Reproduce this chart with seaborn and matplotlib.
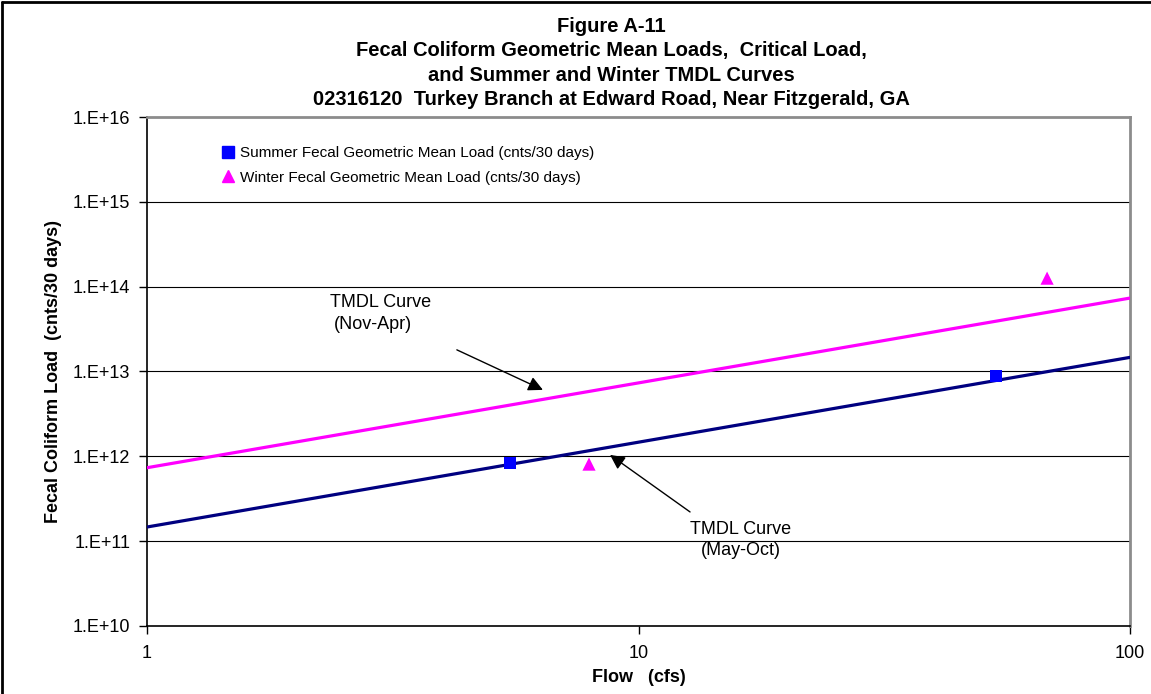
import numpy as np
import pandas as pd
import matplotlib
matplotlib.use("Agg")
import matplotlib.pyplot as plt
import seaborn as sns
from matplotlib.lines import Line2D

# Data
summer_flow = [5.48, 53.4]
summer_load = [8.4e11, 8.9e12]
winter_flow = [7.93, 67.8]
winter_load = [8.1e11, 1.26e14]
curve_flow = [1.0, 100.0]
summer_tmdl = [1.468e11, 1.468e13]
winter_tmdl = [7.34e11, 7.34e13]
y_ticks = [1e10, 1e11, 1e12, 1e13, 1e14, 1e15, 1e16]
y_tick_labels = ["1.E+10", "1.E+11", "1.E+12", "1.E+13", "1.E+14", "1.E+15", "1.E+16"]
x_ticks = [1, 10, 100]
x_tick_labels = ["1", "10", "100"]

sns.set_theme(style="white")
plt.rcParams['font.family'] = ['Liberation Sans', 'DejaVu Sans']
plt.rcParams['text.color'] = 'black'
plt.rcParams['axes.labelcolor'] = 'black'
plt.rcParams['xtick.color'] = 'black'
plt.rcParams['ytick.color'] = 'black'

fig = plt.figure(figsize=(11.51, 6.94), dpi=100)
ax = fig.add_axes([0.1277, 0.098, 0.8541, 0.7334])

ax.set_xscale("log")
ax.set_yscale("log")
ax.set_xlim(1, 100)
ax.set_ylim(1e10, 1e16)

for yt in y_ticks[1:-1]:
    ax.axhline(yt, color="black", lw=0.8, zorder=1)

df_c = pd.DataFrame({"flow": curve_flow + curve_flow,
                     "load": winter_tmdl + summer_tmdl,
                     "curve": ["winter"] * 2 + ["summer"] * 2})
sns.lineplot(data=df_c, x="flow", y="load", hue="curve",
             palette={"winter": "#FF00FF", "summer": "#000080"},
             lw=2.3, ax=ax, legend=False, zorder=3)

df_s = pd.DataFrame({"flow": summer_flow, "load": summer_load})
df_w = pd.DataFrame({"flow": winter_flow, "load": winter_load})
sns.scatterplot(data=df_s, x="flow", y="load", marker="s", color="#0000FF",
                s=75, edgecolor="none", ax=ax, zorder=4)
sns.scatterplot(data=df_w, x="flow", y="load", marker="^", color="#FF00FF",
                s=90, edgecolor="none", ax=ax, zorder=4)

ax.set_xticks(x_ticks)
ax.set_xticklabels(x_tick_labels, fontsize=13)
ax.set_yticks(y_ticks)
ax.set_yticklabels(y_tick_labels, fontsize=13)
ax.minorticks_off()
ax.tick_params(axis="both", direction="out", length=6, width=1, color="black",
               labelcolor="black", bottom=True, left=True)
ax.tick_params(axis="y", pad=6)
ax.tick_params(axis="x", pad=8)

for side in ["left", "bottom"]:
    ax.spines[side].set_color("black")
    ax.spines[side].set_linewidth(1.2)
for side in ["top", "right"]:
    ax.spines[side].set_color("#8c8c8c")
    ax.spines[side].set_linewidth(2)

ax.set_xlabel("Flow   (cfs)", fontsize=13, fontweight="bold", labelpad=5,
              color="black")
ax.set_ylabel("Fecal Coliform Load  (cnts/30 days)", fontsize=13,
              fontweight="bold", labelpad=8, color="black")

handles = [
    Line2D([], [], marker="s", color="#0000FF", ls="none", markersize=8.5),
    Line2D([], [], marker="^", color="#FF00FF", ls="none", markersize=9),
]
leg = ax.legend(handles, ["Summer Fecal Geometric Mean Load (cnts/30 days)",
                          "Winter Fecal Geometric Mean Load (cnts/30 days)"],
                loc="upper left", bbox_to_anchor=(0.067, 0.955), frameon=False,
                fontsize=11, handletextpad=0.2, handlelength=1.2,
                labelspacing=0.7, borderaxespad=0)
for t in leg.get_texts():
    t.set_color("black")

arrow_kw = dict(arrowstyle="-|>", color="black", lw=1,
                mutation_scale=22, shrinkA=0, shrinkB=0)
ax.annotate("", xy=(6.39, 6.07e12), xytext=(4.27, 1.8e13), arrowprops=arrow_kw)
ax.annotate("", xy=(8.75, 1.04e12), xytext=(12.73, 2.21e11), arrowprops=arrow_kw)

ax.text(2.99, 6.44e13, "TMDL Curve", fontsize=13, ha="center", va="center")
ax.text(2.88, 3.55e13, "(Nov-Apr)", fontsize=13, ha="center", va="center")
ax.text(16.16, 1.36e11, "TMDL Curve", fontsize=13, ha="center", va="center")
ax.text(16.16, 7.66e10, "(May-Oct)", fontsize=13, ha="center", va="center")

title_lines = ["Figure A-11",
               "Fecal Coliform Geometric Mean Loads,  Critical Load,",
               "and Summer and Winter TMDL Curves",
               "02316120  Turkey Branch at Edward Road, Near Fitzgerald, GA"]
for i, line in enumerate(title_lines):
    y_px = 26.5 + i * 24.3
    fig.text(611 / 1151, 1 - y_px / 694, line, ha="center", va="center",
             fontsize=14.5, fontweight="bold", color="black")

fig.add_artist(Line2D([0.002, 0.002], [0, 0.997], color="black", lw=2,
                      transform=fig.transFigure))
fig.add_artist(Line2D([0.002, 1.0], [0.997, 0.997], color="black", lw=2,
                      transform=fig.transFigure))

fig.savefig("out.png", dpi=100)
